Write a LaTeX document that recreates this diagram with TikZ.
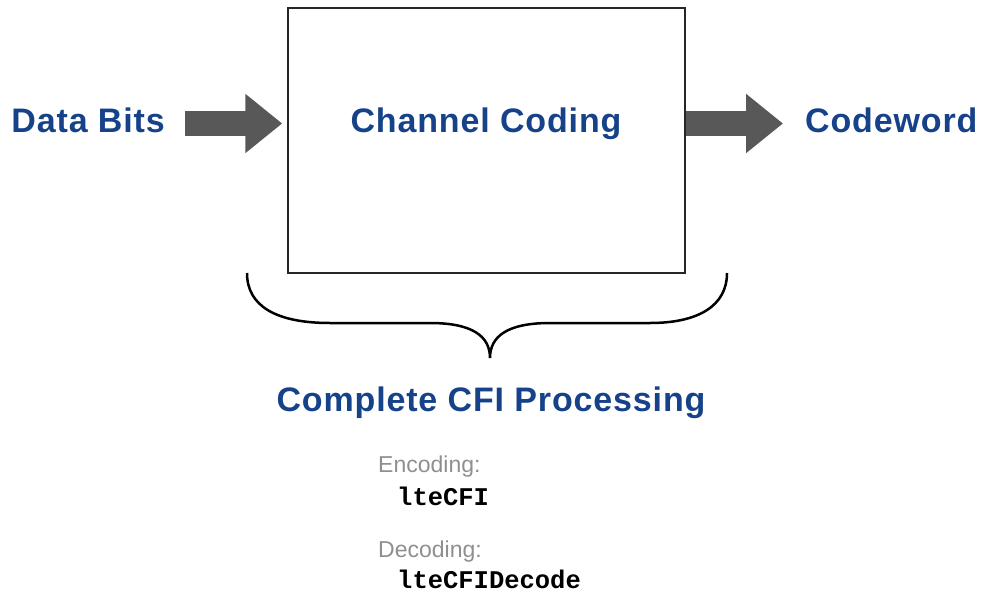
\documentclass[tikz,border=0pt]{standalone}
\usepackage{fontspec}
\setmainfont{Liberation Sans}
\newfontfamily\headfont[LetterSpace=2.5]{Liberation Sans}
\newfontfamily\codefont{Liberation Mono}
\usepackage{xcolor}
\usetikzlibrary{arrows.meta}

\definecolor{cfiblue}{RGB}{22,66,138}
\definecolor{cfigray}{RGB}{143,143,143}
\definecolor{arrowgray}{RGB}{88,88,88}

\begin{document}
\begin{tikzpicture}[
        x = 1pt, y = -1pt,
        bluelabel/.style = {inner sep = 0pt, text = cfiblue,
            font = \headfont\bfseries\fontsize{34}{40}\selectfont},
        graylabel/.style = {inner sep = 0pt, text = cfigray,
            font = \fontsize{23}{28}\selectfont},
        codelabel/.style = {inner sep = 0pt,
            font = \codefont\bfseries\fontsize{25.5}{30}\selectfont},
    ]
    \tikzstyle{blockbox} = [draw = black!85, line width = 1.5pt, minimum width = 397pt, minimum height = 265pt, inner sep = 0pt];
    \tikzstyle{bigarrow} = [draw = arrowgray, line width = 25pt, -{Triangle[length = 37pt, width = 57pt]}];
    \useasboundingbox (0,0) rectangle (982,594);
    \node [blockbox] (box) at (486.5,140.5) {};
    \node [bluelabel, anchor = base] (chcoding) at (486,132) {Channel Coding};
    \node [bluelabel, anchor = base east] (databits) at (165,132) {Data Bits};
    \node [bluelabel, anchor = base west] (codeword) at (805,132) {Codeword};
    \coordinate (arrowy) at (0,123.5);
    \draw [bigarrow, shorten <= 20pt, shorten >= 5pt] (databits.east |- arrowy) -- (box.west |- arrowy);
    \draw [bigarrow, shorten >= 22pt] (box.east |- arrowy) -- (codeword.west |- arrowy);
    % brace under the block
    \coordinate (braceL) at (247,273);
    \coordinate (braceR) at (727,273);
    \coordinate (braceM) at (490,358);
    \draw [line width = 2.5pt] (braceL) .. controls (247,306) and (276,323) .. (330,323)
        -- (430,323) .. controls (472,323) and (490,336) .. (braceM)
        .. controls (490,336) and (508,323) .. (550,323)
        -- (650,323) .. controls (698,323) and (727,306) .. (braceR);
    \node [bluelabel, anchor = base] (cfiproc) at (491,411) {Complete CFI Processing};
    \node [graylabel, anchor = base west] (enc) at (378,472) {Encoding:};
    \node [codelabel, anchor = base west] (encfn) at (397,505) {lteCFI};
    \node [graylabel, anchor = base west] (dec) at (378,557) {Decoding:};
    \node [codelabel, anchor = base west] (decfn) at (397,588) {lteCFIDecode};
\end{tikzpicture}
\end{document}
